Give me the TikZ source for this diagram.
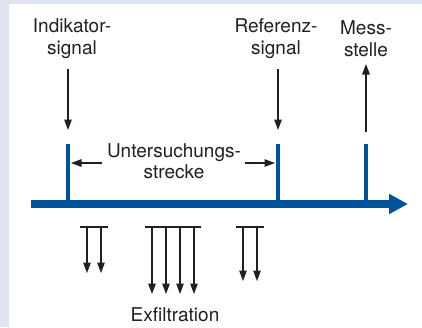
\documentclass[tikz,border=0pt]{standalone}
\usepackage{fontspec}
\setmainfont{TeX Gyre Heros}
\usetikzlibrary{arrows.meta}
\definecolor{pipeblue}{RGB}{0,82,155}
\definecolor{panelgrey}{RGB}{223,228,240}
\definecolor{inkgrey}{RGB}{35,31,32}

\begin{document}
\begin{tikzpicture}[x=1pt,y=-1pt,
		lbl/.style={align=center,text=inkgrey,font=\fontsize{19}{21.5}\selectfont,inner sep=0pt},
		flow/.style={inkgrey,line width=1.1pt,-{Triangle[length=10.5pt,width=7.5pt]}},
		pipe/.style={pipeblue,line width=8pt,-{Triangle[length=19pt,width=19pt]}},
		tickline/.style={pipeblue,line width=3.5pt}]
			\useasboundingbox (0,0) rectangle (422,327);
			\fill[panelgrey] (0,0) rectangle (422,327);
			\fill[white] (9,4) rectangle (422,327);
			% pipe with measuring points
			\coordinate (pstart) at (31,204);
			\coordinate (pend) at (408,204);
			\coordinate (indtick) at (68,144);
			\coordinate (reftick) at (278,144);
			\coordinate (messtick) at (366,144);
			\draw[tickline] (indtick) -- (indtick |- pstart);
			\draw[tickline] (reftick) -- (reftick |- pstart);
			\draw[tickline] (messtick) -- (messtick |- pstart);
			\draw[pipe] (pstart) -- (pend);
			% labels
			\node[lbl] (ind) at (72,38.5) {Indikator-\\signal};
			\node[lbl] (ref) at (276,38.5) {Referenz-\\signal};
			\node[lbl] (mess) at (366,38.5) {Mess-\\stelle};
			\node[lbl] (strecke) at (174,161) {Untersuchungs-\\strecke};
			\node[lbl] (exf) at (175,315) {Exfiltration};
			\coordinate (indtop) at (68,69);
			\coordinate (indbot) at (68,130);
			\coordinate (reftop) at (278,69);
			\coordinate (refbot) at (278,130);
			\coordinate (messtop) at (366,64);
			\coordinate (messbot) at (366,132);
			\draw[flow] (indtop) -- (indbot);
			\draw[flow] (reftop) -- (refbot);
			\draw[flow] (messbot) -- (messtop);
			% test section
			\coordinate (lfrom) at (102,163);
			\coordinate (lto) at (71,163);
			\coordinate (rfrom) at (245,163);
			\coordinate (rto) at (275,163);
			\draw[flow] (lfrom) -- (lto);
			\draw[flow] (rfrom) -- (rto);
			% exfiltration
			\draw[inkgrey,line width=1.1pt] (80,227) -- (108,227);
			\foreach \x in {87,101}
				\draw[flow] (\x,227) -- (\x,273);
			\draw[inkgrey,line width=1.1pt] (145,227) -- (201,227);
			\foreach \x in {152,166,180,194}
				\draw[flow] (\x,227) -- (\x,294);
			\draw[inkgrey,line width=1.1pt] (236,227) -- (264,227);
			\foreach \x in {243,257}
				\draw[flow] (\x,227) -- (\x,281);
		\end{tikzpicture}
\end{document}
